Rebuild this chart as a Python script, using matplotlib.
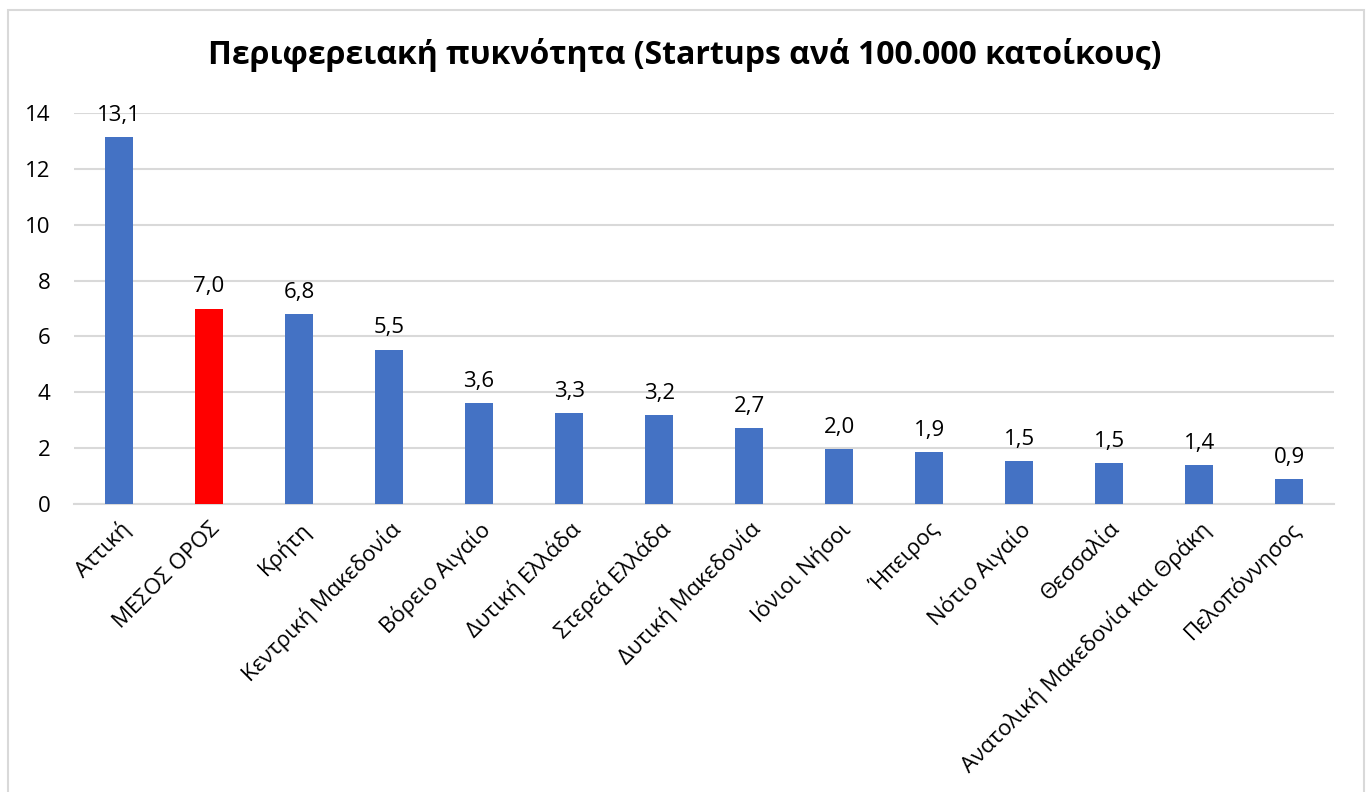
import matplotlib
matplotlib.use("Agg")
import matplotlib.pyplot as plt
from matplotlib.patches import Rectangle

plt.rcParams["font.family"] = ["Open Sans", "DejaVu Sans"]

# =====================================
# DATA
# =====================================
regions = [
    "Αττική",
    "ΜΕΣΟΣ ΟΡΟΣ",
    "Κρήτη",
    "Κεντρική Μακεδονία",
    "Βόρειο Αιγαίο",
    "Δυτική Ελλάδα",
    "Στερεά Ελλάδα",
    "Δυτική Μακεδονία",
    "Ιόνιοι Νήσοι",
    "Ήπειρος",
    "Νότιο Αιγαίο",
    "Θεσσαλία",
    "Ανατολική Μακεδονία και Θράκη",
    "Πελοπόννησος",
]

density = [13.14, 7.0, 6.8, 5.53, 3.61, 3.26, 3.19, 2.73, 1.98, 1.87,
           1.54, 1.46, 1.41, 0.91]

highlight = "ΜΕΣΟΣ ΟΡΟΣ"

title = "Περιφερειακή πυκνότητα (Startups ανά 100.000 κατοίκους)"


# =====================================
# PLOT
# =====================================
fig = plt.figure(figsize=(13.7, 7.92), dpi=100)

fig.patches.append(
    Rectangle(
        (8 / 1370, -0.05),
        1356 / 1370,
        0.987 + 0.05,
        transform=fig.transFigure,
        fill=False,
        edgecolor="#D9D9D9",
        linewidth=1.5
    )
)

ax = fig.add_axes([0.054, 0.3636, 0.92, 0.4937])

colors = [
    "#FF0000" if r == highlight else "#4472C4"
    for r in regions
]

x = range(len(regions))

bars = ax.bar(x, density, width=0.31, color=colors, zorder=3)

for bar, val in zip(bars, density):
    ax.annotate(
        f"{val:.1f}".replace(".", ","),
        (bar.get_x() + bar.get_width() / 2, bar.get_height()),
        xytext=(0, 8),
        textcoords="offset points",
        ha="center",
        va="bottom",
        fontsize=16,
        color="#000000",
        annotation_clip=False
    )

ax.set_ylim(0, 14)
ax.set_xlim(-0.5, len(regions) - 0.5)
ax.set_yticks(range(0, 15, 2))

ax.yaxis.grid(True, color="#D9D9D9", linewidth=1.5, zorder=0)

for side in ["top", "right", "left"]:
    ax.spines[side].set_visible(False)

ax.spines["bottom"].set_color("#D9D9D9")
ax.spines["bottom"].set_linewidth(1.5)

ax.tick_params(axis="both", length=0, labelsize=16, colors="#000000")
ax.tick_params(axis="y", pad=17)
ax.tick_params(axis="x", pad=10)

ax.set_xticks(list(x))
ax.set_xticklabels(
    regions,
    rotation=45,
    ha="right",
    rotation_mode="anchor"
)

fig.text(
    0.5,
    0.93,
    title,
    ha="center",
    va="center",
    fontsize=23,
    fontweight="bold"
)

fig.savefig("out.png", dpi=100)
